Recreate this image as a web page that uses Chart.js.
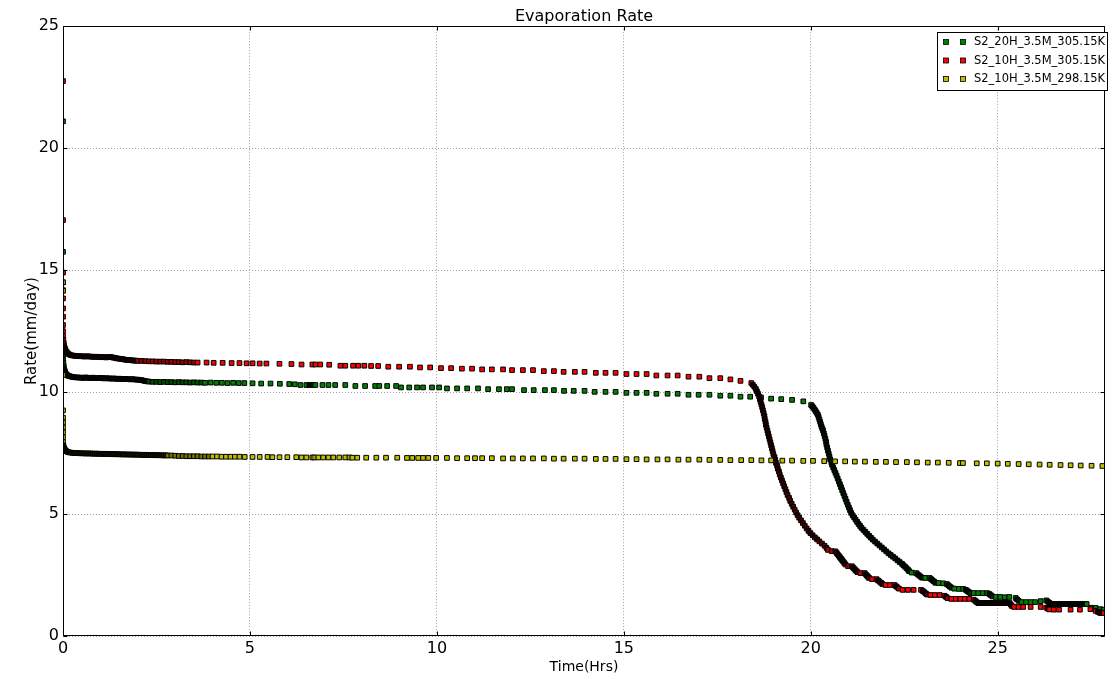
<!DOCTYPE html>
<html>
<head>
<meta charset="utf-8">
<title>Evaporation Rate</title>
<script src="https://cdn.jsdelivr.net/npm/chart.js@4.4.1/dist/chart.umd.min.js"></script>
<style>
  html, body { margin: 0; padding: 0; background: #fff; }
  #wrap { width: 1110px; height: 676px; }
</style>
</head>
<body>
<div id="wrap"><canvas id="evap" width="1110" height="676"></canvas></div>
<script>
// series names (legend order)
const seriesNames = ['S2_20H_3.5M_305.15K', 'S2_10H_3.5M_305.15K', 'S2_10H_3.5M_298.15K'];
const seriesColors = ['#008000', '#ff0000', '#bfbf00'];

const xTicks = [0, 5, 10, 15, 20, 25];
const yTicks = [0, 5, 10, 15, 20, 25];

// [time (hrs), rate (mm/day)]
const s20h305 = [
  [0,21.1],[0,15.75],[0,11.95],[0,11.8],[0,11.65],[0,11.5],[0,11.35],[0.01,11.2],[0.02,11.06],[0.03,10.95],[0.05,10.86],[0.07,10.78],[0.10,10.72],[0.13,10.68],[0.16,10.66],
  [0.20,10.64],[0.25,10.62],[0.30,10.61],[0.35,10.60],[0.40,10.60],[0.45,10.59],[0.50,10.59],[0.55,10.58],[0.60,10.60],[0.65,10.59],[0.70,10.58],[0.75,10.58],[0.80,10.59],[0.85,10.58],[0.90,10.57],[0.95,10.57],[1.00,10.58],[1.05,10.57],[1.10,10.56],[1.15,10.57],[1.20,10.56],[1.25,10.56],[1.30,10.55],[1.35,10.56],[1.40,10.55],[1.45,10.54],[1.50,10.55],[1.55,10.54],[1.60,10.53],[1.65,10.54],[1.70,10.53],[1.75,10.53],[1.80,10.52],[1.85,10.53],[1.90,10.52],[1.95,10.51],[2.00,10.51],[2.05,10.50],[2.10,10.49],[2.15,10.47],[2.20,10.45],[2.25,10.44],[2.30,10.43],
  [2.40,10.42],[2.50,10.42],[2.60,10.41],[2.70,10.42],[2.80,10.41],[2.90,10.41],[3.00,10.40],[3.10,10.41],[3.20,10.40],[3.30,10.40],[3.40,10.39],[3.50,10.40],[3.60,10.39],[3.70,10.39],[3.80,10.38],[3.95,10.39],[4.10,10.38],[4.25,10.38],[4.40,10.37],[4.55,10.38],[4.70,10.37],[4.85,10.37],
  [5.07,10.36],[5.30,10.35],[5.55,10.35],[5.80,10.34],[6.05,10.33],[6.20,10.32],[6.35,10.29],[6.51,10.29],[6.59,10.29],[6.67,10.29],[6.75,10.29],[6.94,10.29],[7.10,10.29],[7.28,10.29],[7.55,10.29],[7.82,10.25],[8.08,10.25],[8.35,10.25],[8.46,10.25],[8.67,10.25],[8.91,10.25],[9.04,10.19],[9.26,10.19],[9.47,10.19],[9.63,10.19],[9.87,10.19],[10.06,10.19],[10.27,10.15],[10.54,10.15],[10.81,10.15],[11.10,10.15],[11.37,10.12],[11.66,10.12],[11.87,10.12],[12.01,10.12],[12.33,10.08],[12.59,10.08],[12.89,10.08],[13.13,10.08],[13.40,10.05],[13.66,10.05],[13.95,10.05],[14.22,10.01],[14.51,10.01],[14.78,10.01],[15.07,9.97],[15.34,9.97],[15.61,9.97],[15.87,9.93],[16.17,9.93],[16.44,9.93],[16.73,9.89],[17.00,9.89],[17.29,9.89],[17.58,9.85],[17.85,9.85],[18.12,9.81],[18.38,9.81],[18.67,9.78],[18.94,9.73],[19.21,9.71],[19.50,9.68],[19.80,9.62],
  [20.01,9.47],[20.04,9.42],[20.07,9.36],[20.10,9.29],[20.13,9.22],[20.16,9.15],[20.19,9.07],[20.21,8.98],[20.23,8.88],[20.25,8.78],[20.27,8.68],[20.29,8.58],[20.31,8.50],[20.33,8.42],[20.35,8.31],[20.37,8.20],[20.39,8.08],[20.41,7.96],[20.42,7.84],[20.44,7.72],[20.46,7.60],[20.48,7.48],[20.50,7.36],[20.52,7.24],[20.55,7.12],[20.57,7.02],[20.60,6.91],[20.63,6.80],[20.66,6.69],[20.69,6.58],[20.72,6.46],[20.75,6.34],[20.78,6.22],[20.81,6.10],[20.84,5.98],[20.87,5.86],[20.90,5.74],[20.93,5.62],[20.96,5.50],[20.99,5.38],[21.02,5.27],[21.05,5.16],[21.08,5.05],[21.12,4.95],[21.16,4.86],[21.20,4.77],[21.24,4.68],[21.28,4.59],[21.32,4.51],[21.36,4.43],[21.41,4.35],[21.46,4.27],[21.51,4.19],[21.56,4.11],[21.61,4.03],[21.66,3.95],[21.72,3.87],[21.78,3.79],[21.84,3.71],[21.90,3.63],[21.96,3.55],[22.02,3.47],[22.08,3.39],[22.14,3.32],[22.20,3.25],[22.26,3.18],[22.32,3.10],[22.38,3.03],[22.44,2.96],
  [22.48,2.90],[22.52,2.84],[22.56,2.78],[22.60,2.72],[22.63,2.66],
  [22.70,2.60],[22.82,2.58],
  [22.86,2.53],[22.90,2.48],[22.94,2.43],[22.98,2.39],
  [23.06,2.38],[23.18,2.38],
  [23.22,2.33],[23.26,2.28],[23.30,2.23],[23.34,2.18],
  [23.42,2.17],[23.54,2.16],
  [23.64,2.13],[23.68,2.08],[23.72,2.03],[23.76,1.98],
  [23.84,1.94],[23.96,1.93],[24.08,1.93],
  [24.15,1.89],[24.19,1.84],[24.23,1.80],[24.27,1.76],
  [24.36,1.76],[24.48,1.76],[24.60,1.76],[24.72,1.76],
  [24.78,1.72],[24.82,1.67],[24.86,1.62],
  [24.95,1.60],[25.07,1.60],[25.19,1.59],[25.31,1.60],
  [25.48,1.56],[25.52,1.50],[25.56,1.44],
  [25.64,1.39],[25.76,1.39],[25.88,1.39],[26.00,1.39],[26.15,1.43],
  [26.30,1.46],[26.34,1.41],[26.38,1.36],
  [26.42,1.31],[26.46,1.31],[26.50,1.31],[26.54,1.31],[26.58,1.31],[26.62,1.31],[26.66,1.31],[26.70,1.31],[26.74,1.31],[26.78,1.31],[26.82,1.31],[26.86,1.31],[26.90,1.31],[26.94,1.31],[26.98,1.31],[27.02,1.31],[27.06,1.31],[27.10,1.31],[27.14,1.31],[27.18,1.31],[27.22,1.31],[27.26,1.31],[27.30,1.31],[27.34,1.31],[27.38,1.31],
  [27.50,1.16],[27.62,1.15],[27.74,1.10],[27.84,1.08]
];

const s10h305 = [
  [0,22.75],[0,17.05],[0,14.9],[0,14.5],[0,14.18],[0,13.84],[0,13.43],[0,13.09],[0,12.75],[0,12.5],[0,12.3],[0.01,12.15],[0.02,12.0],[0.03,11.9],[0.05,11.8],[0.07,11.72],[0.10,11.64],[0.13,11.59],[0.16,11.55],[0.20,11.52],
  [0.25,11.50],[0.30,11.49],[0.35,11.48],[0.40,11.48],[0.45,11.47],[0.50,11.47],[0.55,11.46],[0.60,11.46],[0.65,11.47],[0.70,11.46],[0.75,11.45],[0.80,11.45],[0.85,11.44],[0.90,11.45],[0.95,11.44],[1.00,11.43],[1.05,11.44],[1.10,11.43],[1.15,11.42],[1.20,11.43],[1.25,11.44],[1.30,11.43],[1.35,11.41],[1.40,11.40],[1.45,11.38],[1.50,11.37],[1.55,11.36],[1.60,11.35],[1.65,11.33],[1.70,11.32],[1.75,11.31],[1.80,11.31],[1.85,11.30],[1.90,11.29],[1.95,11.29],[2.00,11.28],
  [2.10,11.28],[2.20,11.27],[2.30,11.26],[2.40,11.26],[2.50,11.25],[2.60,11.25],[2.70,11.25],[2.80,11.24],[2.90,11.24],[3.00,11.23],[3.10,11.23],[3.20,11.22],[3.30,11.23],[3.40,11.22],[3.50,11.21],
  [3.60,11.21],[3.84,11.21],[4.03,11.20],[4.27,11.20],[4.51,11.19],[4.72,11.19],[4.91,11.18],[5.07,11.18],[5.26,11.17],[5.44,11.17],[5.79,11.16],[6.11,11.15],
  [6.38,11.13],[6.67,11.13],[6.75,11.13],[6.88,11.13],[7.12,11.12],[7.42,11.08],[7.55,11.08],[7.76,11.08],[7.90,11.08],[8.06,11.08],[8.24,11.07],[8.43,11.07],[8.70,11.04],[8.99,11.04],[9.28,11.04],[9.55,11.01],[9.82,11.01],[10.11,10.98],[10.38,10.98],[10.67,10.96],[10.94,10.96],[11.21,10.93],[11.47,10.93],[11.77,10.93],[12.01,10.90],[12.30,10.90],[12.57,10.90],[12.86,10.86],[13.13,10.86],[13.39,10.83],[13.69,10.83],[13.95,10.83],[14.25,10.79],[14.51,10.79],[14.78,10.79],[15.07,10.74],[15.34,10.74],[15.61,10.74],[15.87,10.68],[16.17,10.68],[16.44,10.68],[16.73,10.63],[17.02,10.63],[17.29,10.57],[17.58,10.57],[17.85,10.52],[18.12,10.46],
  [18.41,10.37],[18.45,10.30],[18.49,10.22],[18.53,10.13],[18.56,10.03],[18.59,9.93],[18.62,9.82],[18.64,9.71],[18.66,9.60],[18.68,9.49],[18.70,9.38],[18.72,9.26],[18.74,9.14],[18.76,9.02],[18.77,8.90],[18.79,8.78],[18.80,8.66],[18.82,8.54],[18.84,8.42],[18.86,8.30],[18.88,8.18],[18.90,8.06],[18.92,7.94],[18.94,7.82],[18.96,7.70],[18.98,7.58],[19.00,7.46],[19.03,7.34],[19.05,7.22],[19.07,7.10],[19.10,6.98],[19.12,6.86],[19.15,6.74],[19.17,6.62],[19.20,6.50],[19.23,6.38],[19.26,6.26],[19.29,6.14],[19.32,6.02],[19.35,5.90],[19.38,5.78],[19.42,5.66],[19.45,5.54],[19.49,5.42],[19.53,5.30],[19.57,5.18],[19.61,5.06],[19.65,4.95],[19.69,4.85],[19.74,4.74],[19.79,4.63],[19.84,4.52],[19.89,4.41],[19.94,4.31],[19.99,4.22],[20.05,4.13],[20.11,4.04],[20.17,3.96],[20.23,3.88],[20.30,3.79],[20.37,3.70],[20.42,3.61],[20.46,3.53],
  [20.56,3.48],[20.66,3.47],
  [20.69,3.41],[20.72,3.35],[20.75,3.29],[20.78,3.23],[20.81,3.17],[20.84,3.11],[20.87,3.05],[20.90,2.99],[20.93,2.93],
  [21.00,2.86],[21.10,2.86],
  [21.13,2.81],[21.16,2.76],[21.19,2.71],[21.22,2.66],[21.25,2.62],
  [21.33,2.58],[21.44,2.58],
  [21.47,2.53],[21.50,2.48],[21.53,2.43],[21.56,2.38],
  [21.64,2.33],[21.76,2.33],
  [21.80,2.28],[21.84,2.23],[21.88,2.18],[21.92,2.13],
  [22.00,2.09],[22.12,2.09],[22.24,2.09],
  [22.28,2.04],[22.32,1.99],[22.36,1.94],
  [22.46,1.89],[22.60,1.89],[22.75,1.89],[22.95,1.89],
  [23.00,1.84],[23.04,1.79],[23.08,1.74],[23.11,1.70],
  [23.20,1.68],[23.32,1.68],[23.45,1.68],
  [23.58,1.65],[23.62,1.60],[23.66,1.55],
  [23.76,1.52],[23.88,1.52],[24.00,1.52],[24.12,1.52],[24.24,1.52],
  [24.36,1.49],[24.40,1.44],[24.44,1.39],
  [24.48,1.35],[24.52,1.35],[24.56,1.35],[24.60,1.35],[24.64,1.35],[24.68,1.35],[24.72,1.35],[24.76,1.35],[24.80,1.35],[24.84,1.35],[24.88,1.35],[24.92,1.35],[24.96,1.35],[25.00,1.35],[25.04,1.35],[25.08,1.35],[25.12,1.35],[25.16,1.35],[25.20,1.35],[25.24,1.35],[25.28,1.35],[25.32,1.35],
  [25.35,1.29],[25.38,1.23],
  [25.44,1.19],[25.56,1.19],[25.68,1.19],[25.88,1.19],[26.15,1.19],
  [26.30,1.16],[26.34,1.12],[26.38,1.09],
  [26.50,1.08],[26.64,1.08],[26.95,1.08],[27.20,1.08],[27.48,1.10],
  [27.62,1.03],[27.68,0.99],[27.72,0.96],[27.76,0.94],[27.84,0.94]
];

const s10h298 = [
  [0,14.5],[0,14.15],[0,10.7],[0,9.25],[0,8.95],[0,8.75],[0,8.55],[0,8.35],[0,8.15],[0,7.95],[0.01,7.82],[0.02,7.74],[0.04,7.67],[0.06,7.62],[0.09,7.58],[0.12,7.55],[0.16,7.53],[0.20,7.52],
  [0.25,7.51],[0.30,7.50],[0.35,7.50],[0.40,7.50],[0.45,7.49],[0.50,7.49],[0.55,7.49],[0.60,7.48],[0.65,7.49],[0.70,7.48],[0.75,7.48],[0.80,7.48],[0.85,7.47],[0.90,7.48],[0.95,7.47],[1.00,7.47],[1.05,7.47],[1.10,7.46],[1.15,7.47],[1.20,7.46],[1.25,7.46],[1.30,7.46],[1.35,7.45],[1.40,7.46],[1.45,7.45],[1.50,7.45],[1.55,7.45],[1.60,7.44],[1.65,7.45],[1.70,7.44],[1.75,7.44],[1.80,7.44],[1.85,7.44],[1.90,7.43],[1.95,7.44],[2.00,7.43],[2.05,7.43],[2.10,7.43],[2.15,7.42],[2.20,7.43],[2.25,7.42],[2.30,7.42],[2.35,7.42],[2.40,7.42],[2.45,7.41],[2.50,7.42],[2.55,7.41],[2.60,7.41],[2.65,7.41],[2.70,7.40],[2.75,7.41],[2.80,7.40],[2.90,7.40],[3.00,7.39],[3.10,7.38],
  [3.20,7.38],[3.30,7.37],[3.40,7.37],[3.50,7.37],[3.60,7.37],[3.70,7.36],[3.80,7.36],[3.90,7.36],[4.00,7.36],[4.12,7.36],[4.24,7.35],[4.36,7.35],[4.48,7.35],[4.60,7.35],[4.72,7.35],
  [4.86,7.34],[5.07,7.34],[5.26,7.34],[5.47,7.34],[5.60,7.33],[5.79,7.33],[6.00,7.33],[6.24,7.33],[6.38,7.32],[6.51,7.32],[6.67,7.32],[6.72,7.32],[6.83,7.32],[6.96,7.32],[7.10,7.32],[7.23,7.32],[7.39,7.32],[7.55,7.32],[7.66,7.32],[7.74,7.31],[7.87,7.31],[8.11,7.31],[8.38,7.31],[8.64,7.31],[8.94,7.31],[9.20,7.30],[9.34,7.30],[9.50,7.30],[9.63,7.30],[9.77,7.30],[9.98,7.30],[10.27,7.30],[10.54,7.29],[10.81,7.29],[11.02,7.29],[11.21,7.29],[11.47,7.29],[11.77,7.28],[12.03,7.28],[12.30,7.28],[12.57,7.28],[12.86,7.28],[13.13,7.27],[13.39,7.27],[13.69,7.27],[13.95,7.27],[14.25,7.26],[14.51,7.26],[14.78,7.26],[15.07,7.25],[15.34,7.25],[15.61,7.24],[15.90,7.24],[16.17,7.24],[16.46,7.23],[16.73,7.23],[17.02,7.23],[17.29,7.22],[17.58,7.22],[17.85,7.21],[18.14,7.21],[18.41,7.21],[18.68,7.20],[18.94,7.20],[19.24,7.19],[19.50,7.19],[19.80,7.18],[20.06,7.18],[20.36,7.17],[20.65,7.16],[20.92,7.16],[21.18,7.15],[21.45,7.15],[21.74,7.14],[22.01,7.14],[22.28,7.13],[22.57,7.13],[22.84,7.12],[23.13,7.11],[23.40,7.11],[23.69,7.10],[23.99,7.09],[24.07,7.09],[24.44,7.08],[24.71,7.08],[25.00,7.07],[25.27,7.06],[25.56,7.05],[25.83,7.04],[26.12,7.03],[26.39,7.02],[26.68,7.01],[26.95,7.00],[27.22,6.99],[27.51,6.98],[27.80,6.97]
];

const seriesData = [s20h305, s10h305, s10h298];

Chart.defaults.font.family = "'DejaVu Sans', sans-serif";
Chart.defaults.color = '#000';

// where markers crowd together their black edges pile up; darken the fill to match
function crowdColor(c) {
  const base = seriesColors[c.datasetIndex];
  const pts = seriesData[c.datasetIndex];
  const i = c.dataIndex;
  if (i === undefined || !c.chart.scales.x) return base;
  const sx = c.chart.scales.x, sy = c.chart.scales.y;
  const px = k => [sx.getPixelForValue(pts[k][0]), sy.getPixelForValue(pts[k][1])];
  const [x0, y0] = px(i);
  let d = 0;
  [i - 1, i + 1].forEach(k => {
    if (k >= 0 && k < pts.length) {
      const [x1, y1] = px(k);
      d = Math.max(d, Math.hypot(x1 - x0, y1 - y0));
    } else {
      d = Math.max(d, 10);
    }
  });
  const k = Math.max(0, Math.min(1, (4.4 - d) / 1.4)) * 0.88;
  const n = parseInt(base.slice(1), 16);
  const r = Math.round(((n >> 16) & 255) * (1 - k));
  const g = Math.round(((n >> 8) & 255) * (1 - k));
  const b = Math.round((n & 255) * (1 - k));
  return 'rgb(' + r + ',' + g + ',' + b + ')';
}

// box round the axes with inward ticks on all four sides
const frameTicks = {
  id: 'frameTicks',
  afterDatasetsDraw(chart) {
    const { ctx, chartArea: a, scales } = chart;
    const l = Math.round(a.left) + 0.5, r = Math.round(a.right) - 0.5;
    const t = Math.round(a.top) + 0.5, b = Math.round(a.bottom) - 0.5;
    ctx.save();
    ctx.strokeStyle = '#000';
    ctx.lineWidth = 1;
    ctx.beginPath();
    xTicks.forEach(v => {
      const px = Math.round(scales.x.getPixelForValue(v)) + 0.5;
      ctx.moveTo(px, b); ctx.lineTo(px, b - 4);
      ctx.moveTo(px, t); ctx.lineTo(px, t + 4);
    });
    yTicks.forEach(v => {
      const py = Math.round(scales.y.getPixelForValue(v)) + 0.5;
      ctx.moveTo(l, py); ctx.lineTo(l + 4, py);
      ctx.moveTo(r, py); ctx.lineTo(r - 4, py);
    });
    ctx.stroke();
    ctx.strokeRect(l, t, r - l, b - t);
    ctx.restore();
  }
};

// matplotlib-like legend, two markers per entry
const boxLegend = {
  id: 'boxLegend',
  afterDraw(chart) {
    const { ctx } = chart;
    ctx.save();
    ctx.fillStyle = '#fff';
    ctx.fillRect(937.5, 32.5, 170, 58);
    ctx.strokeStyle = '#000';
    ctx.lineWidth = 1;
    ctx.strokeRect(937.5, 32.5, 170, 58);
    ctx.font = "11.5px 'DejaVu Sans'";
    ctx.textBaseline = 'middle';
    chart.data.datasets.forEach((ds, i) => {
      const cy = 42 + i * 18.5;
      [946, 963].forEach(cx => {
        ctx.fillStyle = seriesColors[i];
        ctx.fillRect(cx - 2.5, cy - 2.5, 5, 5);
        ctx.lineWidth = 0.8;
        ctx.strokeStyle = '#000';
        ctx.strokeRect(cx - 2.5, cy - 2.5, 5, 5);
      });
      ctx.fillStyle = '#000';
      ctx.fillText(ds.label, 974, cy + 0.5);
    });
    ctx.restore();
  }
};

const drawOrder = [3, 2, 1];

new Chart(document.getElementById('evap'), {
  type: 'scatter',
  data: {
    datasets: seriesData.map((pts, i) => ({
      label: seriesNames[i],
      data: pts.map(p => ({ x: p[0], y: p[1] })),
      backgroundColor: crowdColor,
      borderColor: '#000',
      borderWidth: 1,
      pointStyle: 'rect',
      pointRadius: 3.3,
      clip: 0,
      order: drawOrder[i]
    }))
  },
  plugins: [frameTicks, boxLegend],
  options: {
    responsive: false,
    animation: false,
    events: [],
    layout: { padding: { left: 0, right: 2, top: 0, bottom: 0 } },
    plugins: {
      legend: { display: false },
      tooltip: { enabled: false },
      title: {
        display: true,
        text: 'Evaporation Rate',
        fullSize: false,
        color: '#000',
        font: { size: 16, weight: 'normal', lineHeight: 1.2 },
        padding: { top: 7, bottom: 0 }
      }
    },
    scales: {
      x: {
        type: 'linear',
        min: 0,
        max: 27.87,
        afterBuildTicks: s => { s.ticks = xTicks.map(v => ({ value: v })); },
        afterFit: s => { s.height = 40; },
        grid: { color: '#a0a0a0', lineWidth: 1, drawTicks: false },
        border: { display: false, dash: [1, 2] },
        ticks: { font: { size: 16 }, color: '#000', padding: 3, maxRotation: 0, autoSkip: false },
        title: { display: true, text: 'Time(Hrs)', font: { size: 14 }, color: '#000', padding: { top: 0, bottom: 0 } }
      },
      y: {
        type: 'linear',
        min: 0,
        max: 25,
        afterBuildTicks: s => { s.ticks = yTicks.map(v => ({ value: v })); },
        afterFit: s => { s.width = 63; },
        grid: { color: '#a0a0a0', lineWidth: 1, drawTicks: false },
        border: { display: false, dash: [1, 2] },
        ticks: { font: { size: 16 }, color: '#000', padding: 4, autoSkip: false },
        title: { display: true, text: 'Rate(mm/day)', font: { size: 15 }, color: '#000', padding: { top: 23, bottom: 0 } }
      }
    }
  }
});
</script>
</body>
</html>
